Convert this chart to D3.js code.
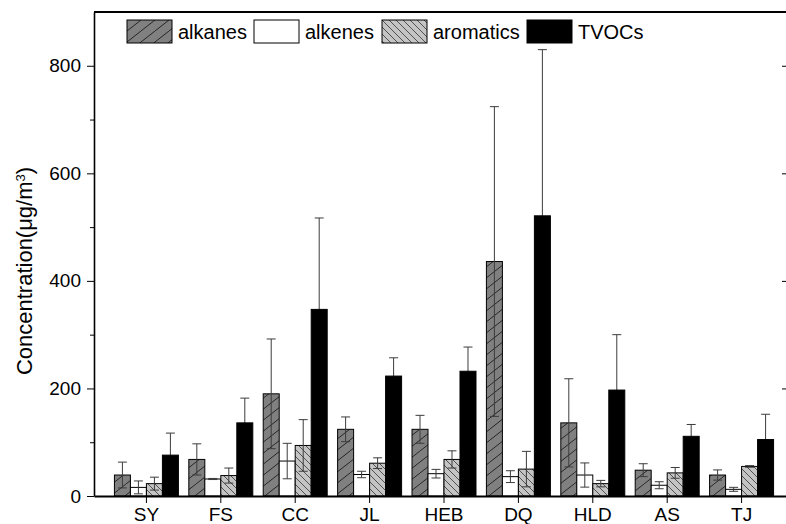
<!DOCTYPE html>
<html>
<head>
<meta charset="utf-8">
<script src="https://d3js.org/d3.v7.min.js"></script>
<style>
  body { margin: 0; background: #fff; }
  text { font-family: "Liberation Sans", Arial, sans-serif; fill: #000; }
</style>
</head>
<body>
<svg id="chart" width="786" height="524"></svg>
<script>
// data
var sites = ["SY", "FS", "CC", "JL", "HEB", "DQ", "HLD", "AS", "TJ"];
var groups = ["alkanes", "alkenes", "aromatics", "TVOCs"];
var alkanes   = [39, 68, 190, 124, 124, 436, 136, 48, 39];
var alkanesSd = [24, 29, 102, 23, 26, 288, 82, 12, 9.5];
var alkenes   = [16, 31.6, 65, 40, 41.5, 36, 39, 20, 12.4];
var alkenesSd = [12, 1, 33, 6, 8, 11, 22.5, 6.5, 3.7];
var aromatics   = [23, 38, 94, 61, 68, 50, 23, 43, 55];
var aromaticsSd = [12, 14, 48, 10, 16, 33, 6, 10, 1.5];
var tvocs   = [76, 136, 347, 223, 232, 521, 197, 111, 105];
var tvocsSd = [41, 46, 170, 34, 45, 309, 103, 22, 47];
var yTicks = [0, 200, 400, 600, 800];
var yMinor = [100, 300, 500, 700];

var series = [
  { name: "alkanes",   vals: alkanes,   sd: alkanesSd,   fill: "url(#hatchAlk)" },
  { name: "alkenes",   vals: alkenes,   sd: alkenesSd,   fill: "#fff" },
  { name: "aromatics", vals: aromatics, sd: aromaticsSd, fill: "url(#hatchAro)" },
  { name: "TVOCs",     vals: tvocs,     sd: tvocsSd,     fill: "#000" }
];

var svg = d3.select("#chart");
var mLeft = 94, mRight = 794, mTop = 12, mBottom = 496;

// patterns
var defs = svg.append("defs");
var pa = defs.append("pattern").attr("id", "hatchAlk")
    .attr("patternUnits", "userSpaceOnUse").attr("width", 14).attr("height", 11);
pa.append("rect").attr("width", 14).attr("height", 11).attr("fill", "#808080");
pa.append("path").attr("d", "M0,11L14,0M-14,11L0,0M14,11L28,0")
    .attr("stroke", "#1a1a1a").attr("stroke-width", 0.9);
var pr = defs.append("pattern").attr("id", "hatchAro")
    .attr("patternUnits", "userSpaceOnUse").attr("width", 7).attr("height", 7);
pr.append("rect").attr("width", 7).attr("height", 7).attr("fill", "#c4c4c4");
pr.append("path").attr("d", "M0,0L7,7M-7,0L0,7M7,0L14,7")
    .attr("stroke", "#333").attr("stroke-width", 0.8);

var x = d3.scaleBand().domain(sites).range([mLeft, mRight])
    .paddingInner(0.14).paddingOuter(0.2745);
var xs = d3.scaleBand().domain(groups).range([0, x.bandwidth()]);
var y = d3.scaleLinear().domain([0, 900]).range([mBottom, mTop]);

function drawBars(s) {
  svg.append("g").selectAll("rect")
    .data(sites)
    .enter().append("rect")
    .attr("x", function(d) { return x(d) + xs(s.name); })
    .attr("y", function(d, i) { return y(s.vals[i]); })
    .attr("width", xs.bandwidth())
    .attr("height", function(d, i) { return mBottom - y(s.vals[i]); })
    .attr("fill", s.fill)
    .attr("stroke", "#000")
    .attr("stroke-width", 1);
}

function drawErrors(s) {
  var g = svg.append("g").attr("stroke", "#3c3c3c").attr("stroke-width", 1).attr("fill", "none");
  sites.forEach(function(d, i) {
    var cx = x(d) + xs(s.name) + xs.bandwidth() / 2;
    var hi = y(s.vals[i] + s.sd[i]), lo = y(Math.max(0, s.vals[i] - s.sd[i]));
    g.append("path").attr("d",
      "M" + cx + "," + hi + "V" + lo +
      "M" + (cx - 4.5) + "," + hi + "H" + (cx + 4.5) +
      "M" + (cx - 4.5) + "," + lo + "H" + (cx + 4.5));
  });
}

// hatched / open bars, then their error bars; black TVOC bars cover their own lower half
series.slice(0, 3).forEach(drawBars);
series.forEach(drawErrors);
drawBars(series[3]);

// axes
var yAxis = svg.append("g").attr("transform", "translate(" + mLeft + ",0)")
    .call(d3.axisLeft(y).tickValues(yTicks).tickSize(7).tickPadding(6).tickSizeOuter(0));
yAxis.select(".domain").attr("stroke-width", 1.6);
yAxis.selectAll("text").style("font-size", "19px");
svg.append("g").attr("transform", "translate(" + mLeft + ",0)")
    .call(d3.axisLeft(y).tickValues(yMinor).tickSize(4).tickFormat(""))
    .select(".domain").remove();

svg.append("g").attr("transform", "translate(787,0)")
    .call(d3.axisLeft(y).tickValues(yTicks).tickSize(5).tickFormat("").tickSizeOuter(0));

var xAxis = svg.append("g").attr("transform", "translate(0," + mBottom + ")")
    .call(d3.axisBottom(x).tickSize(7).tickSizeOuter(0).tickPadding(5));
xAxis.select(".domain").attr("stroke-width", 1.8);
xAxis.selectAll("text").style("font-size", "19px");

svg.append("line").attr("x1", mLeft).attr("x2", 786).attr("y1", mTop).attr("y2", mTop)
    .attr("stroke", "#000").attr("stroke-width", 1.8);

// y label
var yl = svg.append("text")
    .attr("transform", "translate(32,271) rotate(-90)")
    .attr("text-anchor", "middle")
    .style("font-size", "22px");
yl.append("tspan").text("Concentration(μg/m");
yl.append("tspan").attr("baseline-shift", "super").style("font-size", "13px").text("3");
yl.append("tspan").text(")");

// legend
var legX = [127, 254, 382, 527];
var leg = svg.append("g").selectAll("g").data(series).enter().append("g")
    .attr("transform", function(d, i) { return "translate(" + legX[i] + ",20)"; });
leg.append("rect").attr("width", 45).attr("height", 23)
    .attr("fill", function(d) { return d.fill; })
    .attr("stroke", "#000").attr("stroke-width", 1);
leg.append("text").attr("x", 51).attr("y", 19)
    .style("font-size", "20px")
    .text(function(d) { return d.name; });
</script>
</body>
</html>
